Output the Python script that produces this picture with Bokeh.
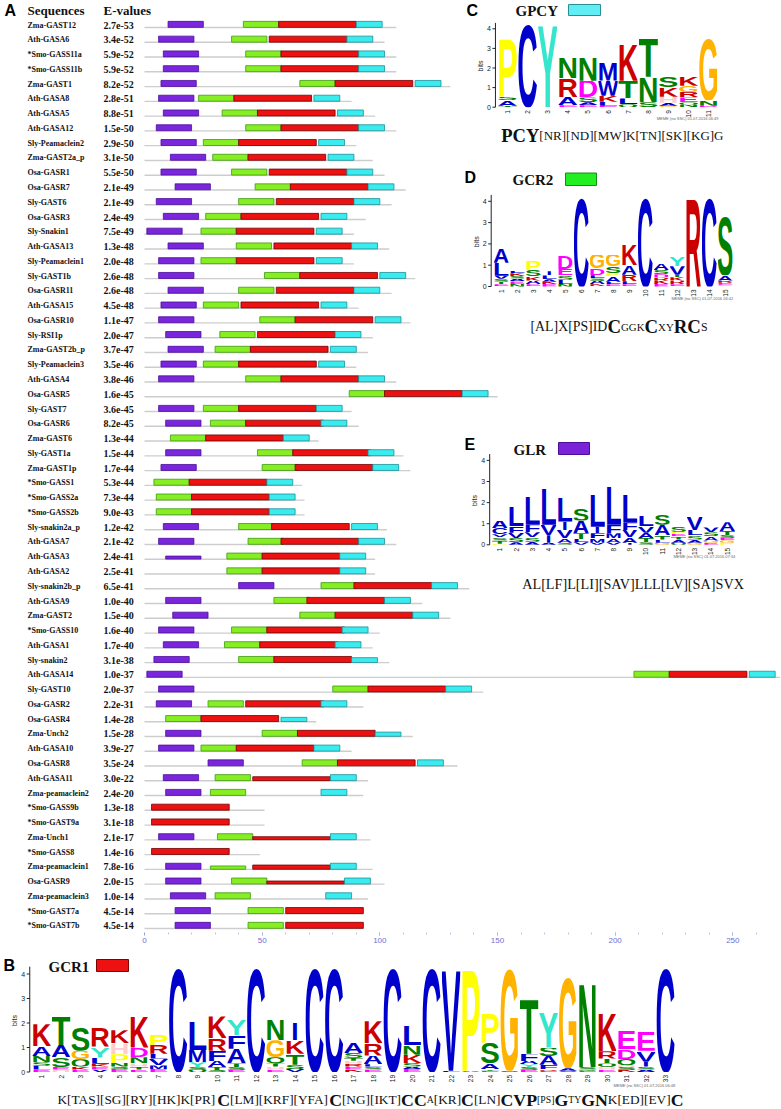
import math
from urllib.parse import quote
from bokeh.plotting import figure
from bokeh.models import Range1d, LinearAxis, FixedTicker, ColumnDataSource
from bokeh.layouts import column
from bokeh.embed import file_html
from bokeh.resources import INLINE
from bokeh.core.properties import value

# ------------------------------------------------------------------ data
names = ["Zma-GAST12", "Ath-GASA6", "*Smo-GASS11a", "*Smo-GASS11b", "Zma-GAST1", "Ath-GASA8",
         "Ath-GASA5", "Ath-GASA12", "Sly-Peamaclein2", "Zma-GAST2a_p", "Osa-GASR1", "Osa-GASR7",
         "Sly-GAST6", "Osa-GASR3", "Sly-Snakin1", "Ath-GASA13", "Sly-Peamaclein1", "Sly-GAST1b",
         "Osa-GASR11", "Ath-GASA15", "Osa-GASR10", "Sly-RSI1p", "Zma-GAST2b_p", "Sly-Peamaclein3",
         "Ath-GASA4", "Osa-GASR5", "Sly-GAST7", "Osa-GASR6", "Zma-GAST6", "Sly-GAST1a",
         "Zma-GAST1p", "*Smo-GASS1", "*Smo-GASS2a", "*Smo-GASS2b", "Sly-snakin2a_p", "Ath-GASA7",
         "Ath-GASA3", "Ath-GASA2", "Sly-snakin2b_p", "Ath-GASA9", "Zma-GAST2", "*Smo-GASS10",
         "Ath-GASA1", "Sly-snakin2", "Ath-GASA14", "Sly-GAST10", "Osa-GASR2", "Osa-GASR4",
         "Zma-Unch2", "Ath-GASA10", "Osa-GASR8", "Ath-GASA11", "Zma-peamaclein2", "*Smo-GASS9b",
         "*Smo-GAST9a", "Zma-Unch1", "*Smo-GASS8", "Zma-peamaclein1", "Osa-GASR9", "Zma-peamaclein3",
         "*Smo-GAST7a", "*Smo-GAST7b"]

evalues = ["2.7e-53", "3.4e-52", "5.9e-52", "5.9e-52", "8.2e-52", "2.8e-51", "8.8e-51", "1.5e-50",
           "2.9e-50", "3.1e-50", "5.5e-50", "2.1e-49", "2.1e-49", "2.4e-49", "7.5e-49", "1.3e-48",
           "2.0e-48", "2.6e-48", "2.6e-48", "4.5e-48", "1.1e-47", "2.0e-47", "3.7e-47", "3.5e-46",
           "3.8e-46", "1.6e-45", "3.6e-45", "8.2e-45", "1.3e-44", "1.5e-44", "1.7e-44", "5.3e-44",
           "7.3e-44", "9.0e-43", "1.2e-42", "2.1e-42", "2.4e-41", "2.5e-41", "6.5e-41", "1.0e-40",
           "1.5e-40", "1.6e-40", "1.7e-40", "3.1e-38", "1.0e-37", "2.0e-37", "2.2e-31", "1.4e-28",
           "1.5e-28", "3.9e-27", "3.5e-24", "3.0e-22", "2.4e-20", "1.3e-18", "3.1e-18", "2.1e-17",
           "1.4e-16", "7.8e-16", "2.0e-15", "1.0e-14", "4.5e-14", "4.5e-14"]

seq_length = [107, 102, 107, 107, 130, 88, 98, 107, 90, 97,
              102, 111, 105, 94, 89, 104, 89, 115, 105, 91,
              113, 97, 95, 90, 107, 150, 88, 91, 74, 110,
              113, 67, 68, 68, 103, 107, 98, 98, 138, 118,
              130, 100, 97, 104, 270, 144, 93, 73, 114, 88,
              133, 95, 93, 51, 51, 96, 49, 97, 102, 95,
              93, 93]

glr_start = [10, 6, 8, 8, 7, 6, 8, 5, 7, 11,
             7, 13, 5, 8, 1, 10, 6, 6, 10, 7,
             6, 9, 10, 7, 6, None, 6, 9, None, 9,
             7, None, None, None, 8, 6, 9, None, 40, 9,
             12, 6, 8, 4, 1, 6, 5, None, 9, 6,
             27, 8, 9, None, None, 6, None, 9, 9, 11,
             13, 13]
gcr2_start = [42, 37, 43, 43, 66, 23, 33, 43, 25, 29,
              37, 47, 40, 26, 24, 39, 24, 51, 40, 25,
              49, 32, 30, 25, 43, 87, 25, 28, 11, 48,
              50, 4, 5, 5, 40, 44, 35, 35, 75, 55,
              66, 37, 34, 40, 208, 80, 27, 9, 50, 24,
              67, 30, 28, None, None, 31, None, 28, 37, 30,
              44, 44]
gcr1_start = [57, 53, 58, 58, 81, 38, 48, 58, 40, 44,
              53, 62, 56, 41, 39, 55, 39, 66, 56, 41,
              64, 48, 45, 40, 58, 102, 40, 43, 26, 63,
              64, 19, 20, 20, 54, 58, 50, 50, 89, 69,
              81, 52, 49, 55, 223, 95, 43, 24, 65, 39,
              82, 46, None, 3, 3, 46, 3, 46, 52, None,
              60, 60]
gpcy_start = [90, 86, 91, 91, 115, 72, 82, 91, 74, 78,
              86, 95, 89, 75, 73, 88, 73, 100, 89, 75,
              98, 81, 79, 74, 91, 135, 73, 75, 59, 95,
              97, 52, 53, 53, 88, 91, 83, 83, 122, 102,
              114, 84, 81, 88, 257, 128, 75, 58, 98, 72,
              116, 79, 75, None, None, 79, None, 79, 85, 77,
              None, None]

motif_length = {"GLR": 15, "GCR2": 15, "GCR1": 33, "GPCY": 11}

# sequence logos: per column, letters bottom -> top with height in bits
gcr1_logo = [
    [("E", .1), ("L", .15), ("S", .15), ("N", .25), ("A", .4), ("K", .9)],
    [("H", .1), ("E", .1), ("S", .4), ("A", .5), ("T", 1.18)],
    [("E", .1), ("K", .12), ("Q", .3), ("G", .35), ("S", .97)],
    [("V", .1), ("E", .12), ("K", .12), ("L", .25), ("Y", .45), ("R", .8)],
    [("E", .12), ("S", .1), ("N", .15), ("P", .35), ("H", .45), ("K", .53)],
    [("E", .1), ("T", .12), ("H", .13), ("N", .25), ("D", .4), ("K", 1.3)],
    [("E", .12), ("M", .15), ("V", .28), ("L", .2), ("R", .35), ("P", .42)],
    [("C", 4.25)],
    [("Q", .08), ("S", .12), ("Y", .2), ("M", .5), ("L", 1.2)],
    [("S", .08), ("T", .12), ("A", .25), ("F", .42), ("R", .5), ("K", .9)],
    [("E", .08), ("S", .12), ("T", .15), ("A", .6), ("F", .55), ("Y", .67)],
    [("C", 4.25)],
    [("E", .1), ("H", .12), ("T", .13), ("Q", .25), ("G", .7), ("N", .85)],
    [("V", .12), ("S", .18), ("T", .45), ("K", .55), ("I", .7)],
    [("C", 4.25)],
    [("C", 4.25)],
    [("K", .1), ("E", .12), ("R", .12), ("H", .12), ("T", .12), ("S", .2), ("A", .45)],
    [("E", .1), ("S", .12), ("L", .1), ("A", .35), ("R", .5), ("K", .9)],
    [("C", 4.25)],
    [("E", .12), ("A", .1), ("S", .15), ("K", .33), ("N", .4), ("L", .8)],
    [("C", 4.25)],
    [("L", .05), ("V", 4.2)],
    [("A", .05), ("P", 4.2)],
    [("E", .05), ("T", .07), ("A", .23), ("S", .85), ("P", 1.24)],
    [("S", .05), ("G", 4.2)],
    [("E", .08), ("S", .12), ("Y", .12), ("A", .13), ("F", .3), ("T", 2.29)],
    [("E", .05), ("R", .07), ("F", .18), ("A", .35), ("S", .35), ("Y", 1.47)],
    [("S", .05), ("A", .1), ("G", 3.75)],
    [("E", .05), ("Q", .05), ("S", .1), ("N", 3.44)],
    [("E", .1), ("H", .1), ("Q", .15), ("T", .2), ("R", .3), ("K", 1.56)],
    [("K", .08), ("S", .12), ("H", .08), ("Q", .25), ("D", .4), ("E", .74)],
    [("A", .1), ("S", .12), ("I", .2), ("V", .45), ("E", .8)],
    [("C", 4.28)],
]
gpcy_logo = [
    [("T", .08), ("A", .29), ("S", .17), ("P", 3.06)],
    [("C", 4.25)],
    [("Y", 4.28)],
    [("E", .1), ("A", .42), ("R", .95), ("N", 1.05)],
    [("E", .1), ("A", .15), ("S", .25), ("D", .85), ("N", 1.2)],
    [("E", .08), ("L", .2), ("K", .3), ("W", .78), ("M", .94)],
    [("Q", .15), ("L", .3), ("T", .9), ("K", 1.9)],
    [("S", .25), ("N", 1.3), ("T", 2.05)],
    [("G", .08), ("A", .15), ("H", .3), ("K", .5), ("S", .55)],
    [("N", .12), ("Q", .12), ("E", .26), ("R", .27), ("G", .33), ("K", .47)],
    [("D", .08), ("N", .27), ("G", 3.2)],
]
gcr2_logo = [
    [("E", .1), ("T", .12), ("S", .14), ("V", .15), ("L", .6), ("A", .68)],
    [("N", .12), ("E", .12), ("A", .13), ("S", .12), ("K", .13), ("L", .12)],
    [("E", .1), ("A", .18), ("K", .2), ("S", .3), ("P", .44)],
    [("E", .12), ("K", .1), ("A", .12), ("L", .18), ("I", .2)],
    [("N", .12), ("L", .2), ("S", .2), ("E", .3), ("D", .62)],
    [("C", 4.25)],
    [("K", .1), ("A", .16), ("S", .12), ("L", .15), ("D", .32), ("G", .65)],
    [("E", .1), ("L", .12), ("A", .25), ("P", .15), ("S", .33), ("G", .55)],
    [("E", .1), ("L", .15), ("R", .3), ("A", .45), ("K", 1.0)],
    [("C", 4.25)],
    [("E", .12), ("K", .15), ("R", .15), ("D", .16), ("S", .2), ("A", .28)],
    [("E", .1), ("R", .18), ("K", .15), ("T", .12), ("V", .4), ("Y", .43)],
    [("R", 4.25)],
    [("C", 4.25)],
    [("G", .08), ("E", .1), ("R", .1), ("A", .25), ("S", 2.8)],
]
glr_logo = [
    [("P", .05), ("T", .15), ("S", .15), ("V", .15), ("C", .3), ("A", .35)],
    [("A", .12), ("S", .2), ("V", .25), ("F", .3), ("L", .95)],
    [("A", .15), ("S", .2), ("V", .25), ("F", .35), ("L", 1.37)],
    [("A", .1), ("I", .35), ("V", .5), ("L", 1.78)],
    [("S", .1), ("A", .2), ("V", .4), ("I", .4), ("L", 1.16)],
    [("V", .12), ("L", .15), ("T", .28), ("A", .6), ("S", .55)],
    [("V", .1), ("M", .2), ("F", .25), ("I", .3), ("L", 1.57)],
    [("V", .1), ("A", .2), ("M", .25), ("F", .4), ("L", 1.9)],
    [("I", .1), ("A", .25), ("V", .35), ("F", .35), ("L", 1.37)],
    [("S", .12), ("T", .2), ("A", .25), ("V", .3), ("L", .5)],
    [("G", .1), ("L", .15), ("T", .2), ("A", .5), ("S", .47)],
    [("Q", .1), ("A", .15), ("T", .15), ("E", .12), ("P", .1), ("S", .22)],
    [("G", .1), ("A", .15), ("S", .2), ("L", .25), ("V", .64)],
    [("E", .1), ("G", .1), ("A", .2), ("S", .2), ("V", .22)],
    [("P", .1), ("G", .12), ("E", .1), ("S", .15), ("T", .18), ("A", .42)],
]

# consensus strings: (text, bold, relative size)
gcr1_consensus = [("K[TAS][SG][RY][HK]K[PR]", 0, 15), ("C", 1, 20), ("[LM][KRF][YFA]", 0, 15), ("C", 1, 20),
                  ("[NG][IKT]", 0, 15), ("CC", 1, 20), ("A", 0, 11), ("[KR]", 0, 15), ("C", 1, 20),
                  ("[LN]", 0, 15), ("CVP", 1, 20), ("[PS]", 0, 11), ("G", 1, 20), ("TY", 0, 11),
                  ("GN", 1, 20), ("K[ED][EV]", 0, 15), ("C", 1, 20)]
gpcy_consensus = [("PCY", 1, 20), ("[NR][ND][MW]K[TN][SK][KG]G", 0, 14)]
gcr2_consensus = [("[AL]X[PS]ID", 0, 14), ("C", 1, 19), ("GGK", 0, 11), ("C", 1, 19), ("XY", 0, 11),
                  ("RC", 1, 19), ("S", 0, 12)]
glr_consensus = [("AL[LF]L[LI][SAV]LLL[LV][SA]SVX", 0, 14)]

# ------------------------------------------------------------------ styles
SERIF = value("Liberation Serif")
SANS = value("Liberation Sans")
MOTIF_STYLE = {"GLR": ("#7A26DC", "#4A0E9A"), "GCR2": ("#86EE22", "#3E9A10"),
               "GCR1": ("#EE1111", "#700000"), "GPCY": ("#3BECEF", "#1C8F9A")}
BOX_SCALE = {("Ath-GASA11", "GCR1"): 0.65, ("Zma-Unch1", "GCR1"): 0.5, ("Osa-GASR9", "GCR1"): 0.5,
             ("Zma-peamaclein1", "GCR1"): 0.7, ("Zma-peamaclein1", "GCR2"): 0.55,
             ("Ath-GASA3", "GLR"): 0.5, ("Osa-GASR4", "GPCY"): 0.7, ("Zma-Unch2", "GPCY"): 0.7,
             ("Sly-snakin2", "GPCY"): 0.8}
LETTER_COLOR = {}
for c in "ACFILVWM":
    LETTER_COLOR[c] = "#0000CC"
for c in "NQST":
    LETTER_COLOR[c] = "#008000"
for c in "DE":
    LETTER_COLOR[c] = "#FF00FF"
LETTER_COLOR.update({"G": "#FFB300", "H": "#FFCCCC", "K": "#CC0000", "R": "#CC0000",
                     "P": "#FFFF00", "Y": "#33E6CC"})

TW_REG = dict(zip("ACDEFGHIKLMNPQRSTVWXY[]",
                  [722, 667, 722, 611, 556, 722, 722, 333, 722, 611, 889, 722, 556, 722, 667, 556, 611,
                   722, 944, 722, 722, 333, 333]))
TW_BOLD = dict(zip("ACDEFGHIKLMNPQRSTVWXY[]",
                   [722, 722, 722, 667, 611, 778, 778, 389, 778, 667, 944, 722, 611, 778, 722, 556, 667,
                    722, 1000, 722, 722, 333, 333]))

# ------------------------------------------------------------------ geometry (page pixels)
W = 780
HA, BOT_A = 948, 16
HB = 1108 - HA
FX0, FX1 = 0, W
FA_TOP, FA_BOT = 0, HA - BOT_A
FB_TOP, FB_BOT = HA, HA + HB
X0_REF, PX_PER_AA = 144.0, 2.3532
ROW0_REF, ROW_PITCH = 24.5, 14.77


def letter_url(ch):
    col = LETTER_COLOR[ch]
    if ch == "I":
        txt = (f'<text x="50" y="100" text-anchor="middle" font-family="Liberation Sans" '
               f'font-weight="bold" font-size="140" fill="{col}">I</text>')
    else:
        txt = (f'<text x="-3" y="100" font-family="Liberation Sans" font-weight="bold" font-size="140" '
               f'textLength="106" lengthAdjust="spacingAndGlyphs" fill="{col}">{ch}</text>')
    svg = ('<svg xmlns="http://www.w3.org/2000/svg" width="100" height="100" viewBox="0 0 100 100" '
           f'preserveAspectRatio="none">{txt}</svg>')
    return "data:image/svg+xml;charset=utf-8," + quote(svg)


def logo_ranges(cx1, sx, y0, sy, ftop, fbot):
    return (Range1d(1 + (FX0 - cx1) / sx, 1 + (FX1 - cx1) / sx),
            Range1d((y0 - fbot) / sy, (y0 - ftop) / sy))


def draw_logo(p, cols, xr, yr, sx, sy, credit, credit_dy):
    xs, ys, ws, hs, urls = [], [], [], [], []
    for k, stack in enumerate(cols, start=1):
        base = 0.0
        for ch, h in stack:
            xs.append(k - 0.48); ys.append(base); ws.append(0.96); hs.append(h)
            urls.append(letter_url(ch))
            base += h
    src = ColumnDataSource(dict(url=urls, x=xs, y=ys, w=ws, h=hs))
    kw = dict(x_range_name=xr, y_range_name=yr)
    p.image_url(url="url", x="x", y="y", w="w", h="h", anchor="bottom_left", source=src, **kw)
    ax = 0.5 - 2.0 / sx
    tl = 3.0 / sx
    ticks = [0, 1, 2, 3, 4]
    p.segment(x0=[ax], y0=[0], x1=[ax], y1=[4.3], line_color="#222222", line_width=1, **kw)
    p.segment(x0=[ax - tl] * 5, y0=ticks, x1=[ax] * 5, y1=ticks, line_color="#222222", line_width=1, **kw)
    p.text(x=[ax - tl - 1.5 / sx] * 5, y=ticks, text=[str(t) for t in ticks], text_font=SANS,
           text_font_size="7px", text_align="right", text_baseline="middle", text_color="#222222", **kw)
    p.text(x=[ax - 15.0 / sx], y=[2.1], text=["bits"], angle=math.pi / 2, text_font=SANS,
           text_font_size="7px", text_align="center", text_baseline="middle", text_color="#222222", **kw)
    n = len(cols)
    p.text(x=list(range(1, n + 1)), y=[-3.0 / sy] * n, text=[str(k) for k in range(1, n + 1)],
           angle=math.pi / 2, text_font=SANS, text_font_size="6.5px", text_align="right",
           text_baseline="middle", text_color="#222222", **kw)
    p.text(x=[n + 0.5], y=[-credit_dy / sy], text=[credit], text_font=SANS, text_font_size="4px",
           text_align="right", text_baseline="middle", text_color="#666666", **kw)


def seg_width(text, bold, size):
    tbl = TW_BOLD if bold else TW_REG
    return sum(tbl[c] for c in text) * size / 1000.0


def draw_consensus(p, segs, x0, x1, ybase):
    total = sum(seg_width(t, b, s) for t, b, s in segs)
    scale = (x1 - x0) / total
    x = x0
    for t, b, s in segs:
        fs = s * scale
        p.text(x=[x], y=[ybase], text=[t], text_font=SERIF, text_font_size=f"{fs:.2f}px",
               text_font_style="bold" if b else "normal", text_align="left", text_baseline="alphabetic",
               text_color="#111111", x_range_name="px", y_range_name="px")
        x += seg_width(t, b, fs)


def title_block(p, letter, lx, ly, name, nx, ny, sw, color, edge):
    p.text(x=[lx], y=[ly], text=[letter], text_font=SANS, text_font_size="16px", text_font_style="bold",
           text_align="left", text_baseline="middle", text_color="#000000", x_range_name="px", y_range_name="px")
    p.text(x=[nx], y=[ny], text=[name], text_font=SERIF, text_font_size="15px", text_font_style="bold",
           text_align="left", text_baseline="middle", text_color="#111111", x_range_name="px", y_range_name="px")
    p.quad(left=[sw[0]], right=[sw[1]], top=[sw[2]], bottom=[sw[3]], fill_color=color, line_color=edge,
           line_width=1, x_range_name="px", y_range_name="px")


# ------------------------------------------------------------------ panel A (+ C, D, E)
pA = figure(width=W, height=HA, output_backend="svg", toolbar_location=None,
            x_range=Range1d((FX0 - X0_REF) / PX_PER_AA, (FX1 - X0_REF) / PX_PER_AA),
            y_range=Range1d((FA_BOT - ROW0_REF) / ROW_PITCH, (FA_TOP - ROW0_REF) / ROW_PITCH),
            x_axis_location=None, y_axis_location=None,
            min_border_left=0, min_border_right=0, min_border_top=0, min_border_bottom=BOT_A)
pA.outline_line_color = None
pA.grid.visible = False

geomC = dict(cx1=507.0, sx=20.1, y0=106.7, sy=19.6)
geomD = dict(cx1=500.7, sx=16.0, y0=286.0, sy=21.3)
geomE = dict(cx1=499.3, sx=16.24, y0=544.3, sy=21.1)
xC, yC = logo_ranges(geomC["cx1"], geomC["sx"], geomC["y0"], geomC["sy"], FA_TOP, FA_BOT)
xD, yD = logo_ranges(geomD["cx1"], geomD["sx"], geomD["y0"], geomD["sy"], FA_TOP, FA_BOT)
xE, yE = logo_ranges(geomE["cx1"], geomE["sx"], geomE["y0"], geomE["sy"], FA_TOP, FA_BOT)
pA.extra_x_ranges = {"px": Range1d(FX0, FX1), "C": xC, "D": xD, "E": xE}
pA.extra_y_ranges = {"px": Range1d(FA_BOT, FA_TOP), "C": yC, "D": yD, "E": yE}

rows = list(range(len(names)))
line_y = [r + 0.17 for r in rows]
pA.segment(x0=[0] * len(rows), y0=line_y, x1=seq_length, y1=line_y, line_color="#cdcdcd", line_width=1.4)

BOX_H = 6.0 / ROW_PITCH
for motif, starts in (("GLR", glr_start), ("GCR2", gcr2_start), ("GCR1", gcr1_start), ("GPCY", gpcy_start)):
    L, R, T, B = [], [], [], []
    for r, s in enumerate(starts):
        if s is None:
            continue
        f = BOX_SCALE.get((names[r], motif), 1.0)
        L.append(s); R.append(s + motif_length[motif])
        B.append(r + 0.16); T.append(r + 0.16 - BOX_H * f)
    fill, edge = MOTIF_STYLE[motif]
    pA.quad(left=L, right=R, top=T, bottom=B, fill_color=fill, line_color=edge, line_width=0.8)

pA.text(x=[27] * len(rows), y=rows, text=names, text_font=SERIF, text_font_size="8px",
        text_font_style="bold", text_align="left", text_baseline="middle", text_color="#111111",
        x_range_name="px")
pA.text(x=[103] * len(rows), y=rows, text=evalues, text_font=SERIF, text_font_size="10px",
        text_font_style="bold", text_align="left", text_baseline="middle", text_color="#111111",
        x_range_name="px")
pA.text(x=[4], y=[9.5], text=["A"], text_font=SANS, text_font_size="16px", text_font_style="bold",
        text_align="left", text_baseline="middle", x_range_name="px", y_range_name="px")
pA.text(x=[27, 103], y=[10, 10], text=["Sequences", "E-values"], text_font=SERIF, text_font_size="13px",
        text_font_style="bold", text_align="left", text_baseline="middle", text_color="#111111",
        x_range_name="px", y_range_name="px")

axis = LinearAxis(ticker=FixedTicker(ticks=[0, 50, 100, 150, 200, 250], minor_ticks=list(range(10, 261, 10))))
axis.axis_line_color = None
axis.major_tick_in = 0
axis.major_tick_out = 3
axis.minor_tick_in = 0
axis.minor_tick_out = 2
axis.major_tick_line_color = "#9a9ade"
axis.minor_tick_line_color = "#c0c0ea"
axis.major_label_text_font = "Liberation Sans"
axis.major_label_text_font_size = "8px"
axis.major_label_text_color = "#6e6ed6"
axis.major_label_standoff = 2
pA.add_layout(axis, "below")

# panel C
title_block(pA, "C", 466, 10, "GPCY", 515, 10, (568, 600, 4, 15), "#60EEF4", "#2A8E96")
draw_logo(pA, gpcy_logo, "C", "C", geomC["sx"], geomC["sy"], "MEME (no SSC) 01.07.2016 06:49", 11)
draw_consensus(pA, gpcy_consensus, 500.7, 723, 135)
# panel D
title_block(pA, "D", 464, 177, "GCR2", 512, 179, (565, 596, 172.5, 185), "#22EE22", "#188A18")
draw_logo(pA, gcr2_logo, "D", "D", geomD["sx"], geomD["sy"], "MEME (no SSC) 01.07.2016 06:42", 12)
draw_consensus(pA, gcr2_consensus, 530, 707, 326)
# panel E
title_block(pA, "E", 464, 443.5, "GLR", 513, 449, (558, 589, 442, 454), "#7A22D8", "#4A0E9A")
draw_logo(pA, glr_logo, "E", "E", geomE["sx"], geomE["sy"], "MEME (no SSC) 01.07.2016 07:34", 12)
draw_consensus(pA, glr_consensus, 521.7, 746.7, 583)

# ------------------------------------------------------------------ panel B
geomB = dict(cx1=41.0, sx=19.5, y0=1071.5, sy=24.5)
xB, yB = logo_ranges(geomB["cx1"], geomB["sx"], geomB["y0"], geomB["sy"], FB_TOP, FB_BOT)
pB = figure(width=W, height=HB, output_backend="svg", toolbar_location=None, x_range=xB, y_range=yB,
            x_axis_location=None, y_axis_location=None,
            min_border_left=0, min_border_right=0, min_border_top=0, min_border_bottom=0)
pB.outline_line_color = None
pB.grid.visible = False
pB.extra_x_ranges = {"px": Range1d(FX0, FX1)}
pB.extra_y_ranges = {"px": Range1d(FB_BOT, FB_TOP)}
title_block(pB, "B", 3, 965, "GCR1", 48, 966, (96, 128, 959, 971), "#EE1111", "#800000")
draw_logo(pB, gcr1_logo, "default", "default", geomB["sx"], geomB["sy"], "MEME (no SSC) 01.07.2016 06:48", 13)
draw_consensus(pB, gcr1_consensus, 57, 683, 1099)

layout = column(pA, pB)
open("out.html", "w").write(file_html(layout, INLINE))
